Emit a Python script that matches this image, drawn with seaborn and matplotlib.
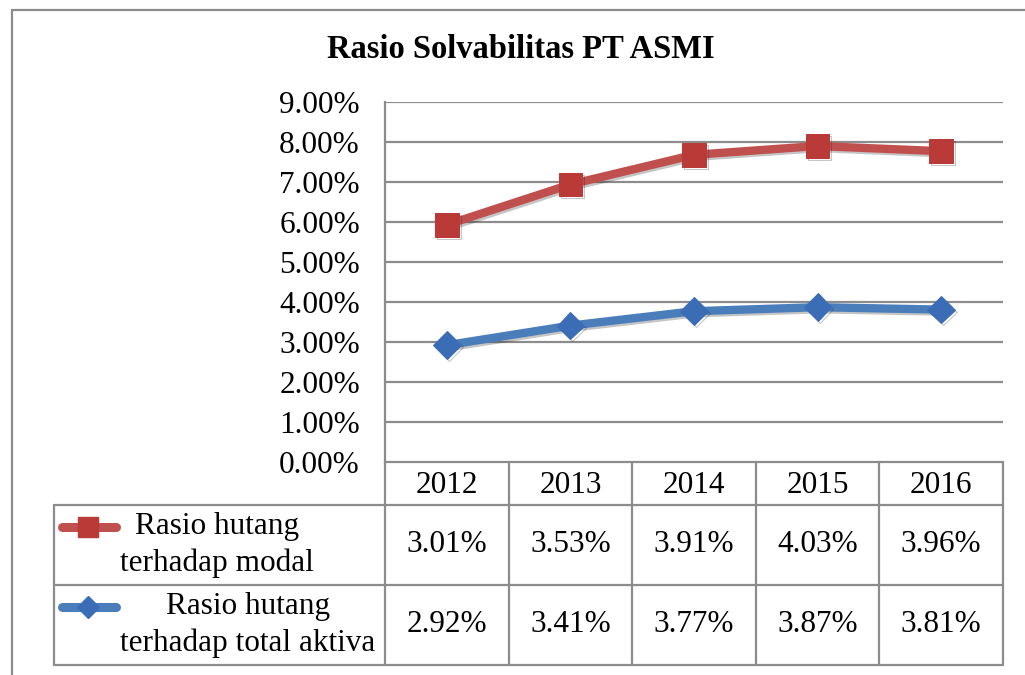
import numpy as np
import pandas as pd
import matplotlib
matplotlib.use("Agg")
import matplotlib.pyplot as plt
import matplotlib.patheffects as pe
import seaborn as sns

years = ["2012", "2013", "2014", "2015", "2016"]
modal = [3.01, 3.53, 3.91, 4.03, 3.96]          # Rasio hutang terhadap modal
aktiva = [2.92, 3.41, 3.77, 3.87, 3.81]         # Rasio hutang terhadap total aktiva
label_modal = "Rasio hutang\nterhadap modal"
label_aktiva = "Rasio hutang\nterhadap total aktiva"
yticks = np.arange(0, 10, 1)

sns.set_theme(style="white")
plt.rcParams["font.family"] = ["Liberation Serif", "DejaVu Serif"]
plt.rcParams["text.color"] = "black"
plt.rcParams["ytick.color"] = "black"

W, H = 1025, 675
fig = plt.figure(figsize=(W / 100, H / 100), dpi=100)

red_line, red_mark = "#C0504D", "#B93A36"
blue_line, blue_mark = "#4A7EBB", "#3A6DB5"
grid_c = "#8C8C8C"
fs = 22.5

# main plot area, in pixel terms
x0, x1, y_top, y_bot = 385, 1003, 102, 462
ax = fig.add_axes([x0 / W, 1 - y_bot / H, (x1 - x0) / W, (y_bot - y_top) / H])

# stacked line chart: the red line sits on top of the blue one
df = pd.DataFrame({
    "pos": np.arange(len(years)),
    "aktiva": aktiva,
    "stacked": np.array(aktiva) + np.array(modal),
})

shadow = [pe.SimpleLineShadow(offset=(1.5, -1.5), alpha=0.25), pe.Normal()]

sns.lineplot(data=df, x="pos", y="stacked", ax=ax, color=red_line, lw=6,
             marker="s", markersize=17, markerfacecolor=red_mark,
             markeredgecolor=red_mark, path_effects=shadow, zorder=3)
sns.lineplot(data=df, x="pos", y="aktiva", ax=ax, color=blue_line, lw=6,
             marker="D", markersize=14, markerfacecolor=blue_mark,
             markeredgecolor=blue_mark, path_effects=shadow, zorder=3)

ax.set_xlim(-0.5, len(years) - 0.5)
ax.set_ylim(0, 9)
ax.set_yticks(yticks)
ax.set_yticklabels([f"{v:.2f}%" for v in yticks], fontsize=fs)
ax.set_xticks([])
ax.set_xlabel("")
ax.set_ylabel("")
ax.tick_params(axis="y", length=0, pad=18)
for v in yticks[1:]:
    ax.axhline(v, color=grid_c, lw=1.6, zorder=1)
for side in ["top", "right", "bottom"]:
    ax.spines[side].set_visible(False)
ax.spines["left"].set_color(grid_c)
ax.spines["left"].set_linewidth(1.6)
ax.patch.set_alpha(0)

# overlay in pixel coords for border, title and the data table
ov = fig.add_axes([0, 0, 1, 1], zorder=-1)
ov.set_xlim(0, W)
ov.set_ylim(H, 0)
ov.axis("off")

ov.plot([12, W], [10, 10], color=grid_c, lw=1.6)
ov.plot([12, 12], [10, H], color=grid_c, lw=1.6)

ov.text(521, 50, "Rasio Solvabilitas PT ASMI", ha="center", va="center",
        fontsize=23.5, fontweight="bold")

col_w = (x1 - x0) / len(years)
cols = [x0 + i * col_w for i in range(len(years) + 1)]
r0, r1, r2, r3 = 462, 505, 585, 665
lab_x = 54

tc = dict(color=grid_c, lw=1.6, zorder=2)
ov.plot([x0, x1], [r0, r0], **tc)
ov.plot([lab_x, x1], [r1, r1], **tc)
ov.plot([lab_x, x1], [r2, r2], **tc)
ov.plot([lab_x, x1], [r3, r3], **tc)
ov.plot([lab_x, lab_x], [r1, r3], **tc)
for cx in cols:
    ov.plot([cx, cx], [r0, r3], **tc)

for i, yr in enumerate(years):
    cx = cols[i] + col_w / 2
    ov.text(cx, (r0 + r1) / 2 + 2, yr, ha="center", va="center", fontsize=fs)
    ov.text(cx, (r1 + r2) / 2, f"{modal[i]:.2f}%", ha="center", va="center", fontsize=fs)
    ov.text(cx, (r2 + r3) / 2, f"{aktiva[i]:.2f}%", ha="center", va="center", fontsize=fs)

# legend keys inside the table
ov.plot([62, 116], [527, 527], color=red_line, lw=6.5, solid_capstyle="round")
ov.plot([88], [527], marker="s", markersize=15, color=red_mark)
ov.plot([62, 116], [607, 607], color=blue_line, lw=6.5, solid_capstyle="round")
ov.plot([88], [607], marker="D", markersize=11, color=blue_mark)

ov.text(120, (r1 + r2) / 2, label_modal, ha="left", va="center",
        multialignment="center", fontsize=fs, linespacing=1.3)
ov.text(120, (r2 + r3) / 2, label_aktiva, ha="left", va="center",
        multialignment="center", fontsize=fs, linespacing=1.3)

fig.savefig("out.png", dpi=100, facecolor="white")
